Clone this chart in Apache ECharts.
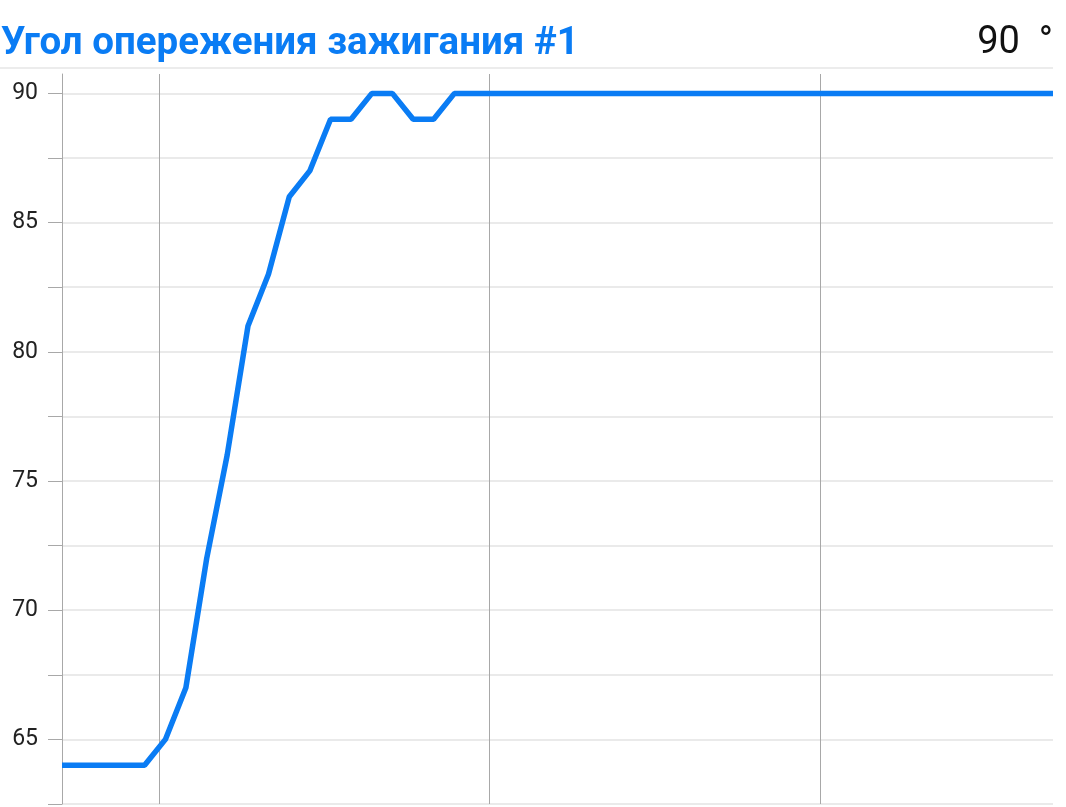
<!DOCTYPE html>
<html>
<head>
<meta charset="utf-8">
<script src="https://cdn.jsdelivr.net/npm/echarts@6/dist/echarts.min.js"></script>
<style>
html,body{margin:0;padding:0;background:#fff;}
#chart{width:1066px;height:807px;}
</style>
</head>
<body>
<div id="chart"></div>
<script>
var titleText = 'Угол опережения зажигания #1';
var currentValue = '90  °';
var times = [7.06, 7.69, 8.31, 8.94, 9.56, 10.19, 10.81, 11.44, 12.06, 12.69,
  13.31, 13.94, 14.56, 15.19, 15.81, 16.44, 17.06, 17.69, 18.31, 18.94,
  19.56, 20.19, 20.81, 21.44, 22.06, 22.69, 23.31, 23.94, 24.56, 25.19,
  25.81, 26.44, 27.06, 27.69, 28.31, 28.94, 29.56, 30.19, 30.81, 31.44,
  32.06, 32.69, 33.31, 33.94, 34.56, 35.19, 35.81, 36.44, 37.06];
var angles = [64, 64, 64, 64, 64, 65, 67, 72, 76, 81,
  83, 86, 87, 89, 89, 90, 90, 89, 89, 90,
  90, 90, 90, 90, 90, 90, 90, 90, 90, 90,
  90, 90, 90, 90, 90, 90, 90, 90, 90, 90,
  90, 90, 90, 90, 90, 90, 90, 90, 90];
var yMin = 62.5, yMax = 90.75, yStep = 2.5;
var xMin = 7.06, xMax = 37.06;

var data = times.map(function(t, i){ return [t, angles[i]]; });
var blue = '#0a7cf4';
var chart = echarts.init(document.getElementById('chart'), null, {renderer:'canvas'});
chart.setOption({
  animation: false,
  backgroundColor: '#fff',
  title: [{
    text: titleText, left: 1, top: 25, padding: 0,
    textStyle: {color: blue, fontFamily: 'Roboto', fontWeight: 'bold', fontSize: 38.5}
  },{
    text: currentValue, right: 13, top: 24, padding: 0,
    textStyle: {color: '#111', fontFamily: 'Roboto', fontWeight: 'normal', fontSize: 38}
  }],
  graphic: [{
    type: 'line', shape: {x1: 0, y1: 68, x2: 1053, y2: 68},
    style: {stroke: '#e6e6e6', lineWidth: 1.5}
  }],
  grid: {left: 62, right: 13, top: 74, bottom: 3, containLabel: false},
  xAxis: {
    type: 'value', min: xMin, max: xMax, splitNumber: 3,
    axisLine: {show: false},
    axisTick: {show: false},
    axisLabel: {show: false},
    splitLine: {show: true, showMinLine: false, showMaxLine: false, lineStyle: {color: '#a8a8a8', width: 1}}
  },
  yAxis: {
    type: 'value', min: yMin, max: yMax, interval: yStep,
    axisLine: {show: true, lineStyle: {color: '#a8a8a8', width: 1}},
    axisTick: {show: true, length: 14, lineStyle: {color: '#a8a8a8', width: 1}},
    axisLabel: {
      margin: 24, color: '#222', fontFamily: 'Roboto', fontSize: 23,
      showMaxLabel: false,
      formatter: function(v){ return (Math.abs(v % 5) < 1e-6) ? String(v) : ''; }
    },
    splitLine: {show: true, showMaxLine: false, lineStyle: {color: '#e3e3e3', width: 1.5}}
  },
  series: [{
    type: 'line', data: data, showSymbol: false, symbol: 'none',
    lineStyle: {color: blue, width: 5.5},
    itemStyle: {color: blue}
  }]
});
</script>
</body>
</html>
